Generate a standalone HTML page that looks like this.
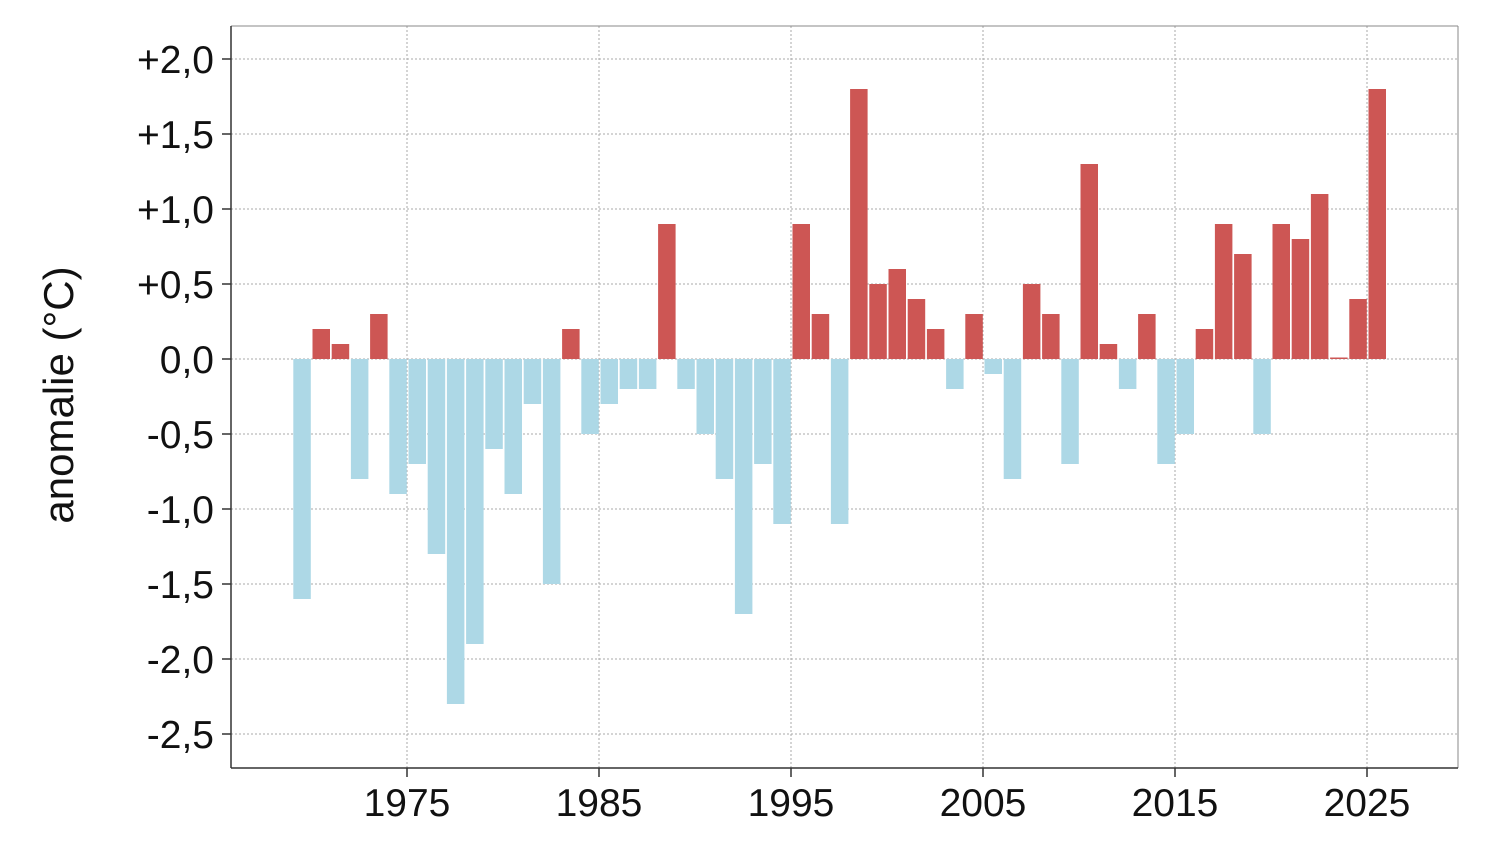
<!DOCTYPE html>
<html><head><meta charset="utf-8"><style>
html,body{margin:0;padding:0;background:#fff;}
svg{display:block;font-family:"Liberation Sans",Arial,sans-serif;}
</style></head><body>
<svg id="c" width="1490" height="868" xmlns="http://www.w3.org/2000/svg">
<rect x="0" y="0" width="1490" height="868" fill="#fff"/>
<g id="grid"></g>
<g id="bars"></g>
<line x1="231" y1="26" x2="1458" y2="26" stroke="#888" stroke-width="1"/>
<line x1="1458" y1="26" x2="1458" y2="768" stroke="#888" stroke-width="1"/>
<line x1="231" y1="26" x2="231" y2="768" stroke="#333" stroke-width="1.5"/>
<line x1="231" y1="768" x2="1458" y2="768" stroke="#333" stroke-width="1.5"/>
<g id="labels" font-size="39" fill="#111"></g>
<text transform="translate(73,395) rotate(-90)" text-anchor="middle" font-size="42" fill="#111">anomalie (°C)</text>
</svg>
<script>
var NS="http://www.w3.org/2000/svg";
function el(p,t,a,txt){var e=document.createElementNS(NS,t);for(var k in a)e.setAttribute(k,a[k]);if(txt!==undefined)e.textContent=txt;document.getElementById(p).appendChild(e);}
function X(y){return 407+(y-1975)*19.2;}
function Y(v){return 359-v*150;}
var yt=[[2,"+2,0"],[1.5,"+1,5"],[1,"+1,0"],[0.5,"+0,5"],[0,"0,0"],[-0.5,"-0,5"],[-1,"-1,0"],[-1.5,"-1,5"],[-2,"-2,0"],[-2.5,"-2,5"]];
yt.forEach(function(t){var y=Y(t[0]);el("grid","line",{x1:231,x2:1458,y1:y,y2:y,stroke:"#aaa","stroke-width":1,"stroke-dasharray":"2,2"});
el("grid","line",{x1:222,x2:231,y1:y,y2:y,stroke:"#333","stroke-width":1.5});
el("labels","text",{x:214,y:y+14,"text-anchor":"end"},t[1]);});
[1975,1985,1995,2005,2015,2025].forEach(function(yr){var x=X(yr);el("grid","line",{x1:x,x2:x,y1:26,y2:768,stroke:"#aaa","stroke-width":1,"stroke-dasharray":"2,2"});
el("grid","line",{x1:x,x2:x,y1:768,y2:777,stroke:"#333","stroke-width":1.5});
el("labels","text",{x:x,y:816,"text-anchor":"middle"},String(yr));});
var d=[-1.6,0.2,0.1,-0.8,0.3,-0.9,-0.7,-1.3,-2.3,-1.9,-0.6,-0.9,-0.3,-1.5,0.2,-0.5,-0.3,-0.2,-0.2,0.9,-0.2,-0.5,-0.8,-1.7,-0.7,-1.1,0.9,0.3,-1.1,1.8,0.5,0.6,0.4,0.2,-0.2,0.3,-0.1,-0.8,0.5,0.3,-0.7,1.3,0.1,-0.2,0.3,-0.7,-0.5,0.2,0.9,0.7,-0.5,0.9,0.8,1.1,0.01,0.4,1.8];
d.forEach(function(v,i){var yr=1969+i;var x=X(yr)+1.5;var y0=Y(0),y1=Y(v);
el("bars","rect",{x:x,width:17.5,y:Math.min(y0,y1),height:Math.max(Math.abs(y1-y0),1.5),fill:v>0?"#cd5654":"#add8e6"});});
</script>
</body></html>
